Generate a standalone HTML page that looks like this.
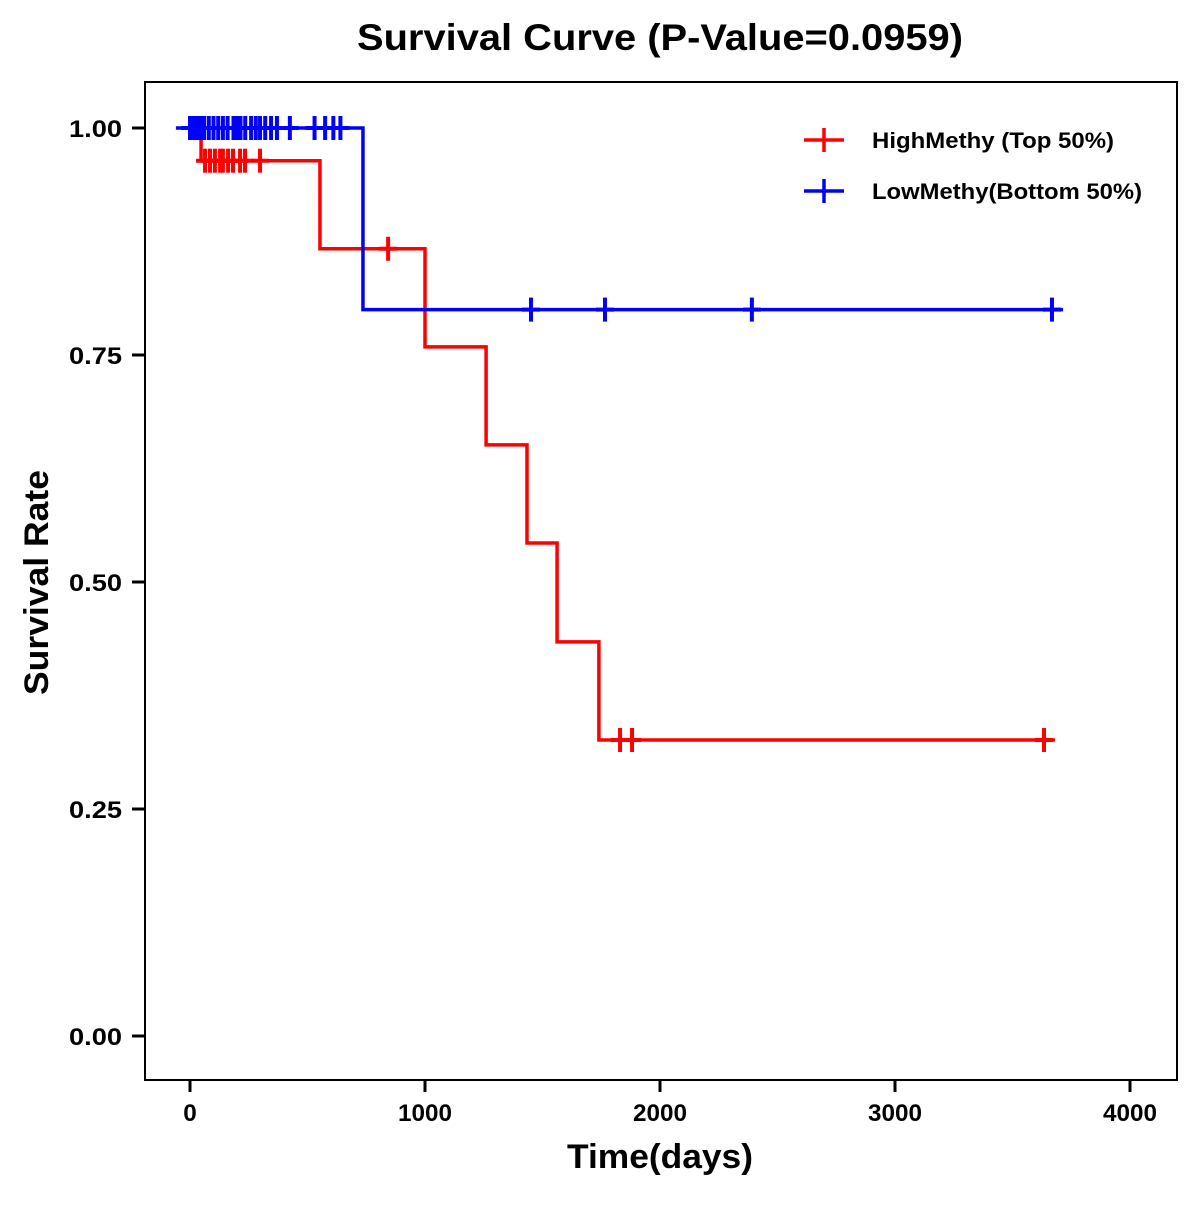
<!DOCTYPE html>
<html><head><meta charset="utf-8"><style>
body{margin:0;background:#fff}
svg text{font-family:"Liberation Sans",Arial,sans-serif;font-weight:bold}
</style></head><body>
<svg id="chart" width="1200" height="1200">
<rect x="145" y="82" width="1032" height="998" fill="none" stroke="#000" stroke-width="2"/>
<text x="357" y="50" font-size="37" textLength="606" lengthAdjust="spacingAndGlyphs">Survival Curve (P-Value=0.0959)</text>
<text x="567" y="1168" font-size="34" textLength="186" lengthAdjust="spacingAndGlyphs">Time(days)</text>
<text transform="translate(48,695) rotate(-90)" font-size="34" textLength="225" lengthAdjust="spacingAndGlyphs">Survival Rate</text>
<g id="axes"></g>
<g id="series"></g>
<g>
 <line x1="804" y1="140" x2="844" y2="140" stroke="#f00" stroke-width="3.5"/><line x1="824" y1="128" x2="824" y2="152" stroke="#f00" stroke-width="3.5"/>
 <text x="872" y="148" font-size="22" textLength="242" lengthAdjust="spacingAndGlyphs">HighMethy (Top 50%)</text>
 <line x1="804" y1="191" x2="844" y2="191" stroke="#00f" stroke-width="3.5"/><line x1="824" y1="179" x2="824" y2="203" stroke="#00f" stroke-width="3.5"/>
 <text x="872" y="199" font-size="22" textLength="270" lengthAdjust="spacingAndGlyphs">LowMethy(Bottom 50%)</text>
</g>
</svg>
<script>
const xTicks=[0,1000,2000,3000,4000];
const yTicks=[0,0.25,0.5,0.75,1];
const yTickLabels=["0.00","0.25","0.50","0.75","1.00"];
const highTimes=[0,47,553,1000,1260,1434,1562,1740,3681];
const highSurv=[1,0.964,0.867,0.759,0.651,0.543,0.434,0.326,0.326];
const highCensor=[64,85,106,128,140,162,183,213,234,298,843,1830,1881,3634];
const lowTimes=[-60,736,3715];
const lowSurv=[1,0.8,0.8];
const lowCensor=[0,10,20,30,45,60,80,100,120,140,160,185,200,215,235,260,280,298,320,345,370,425,530,575,610,640,1451,1766,2391,3668];
const X=t=>190+t*0.235, Y=s=>1036-s*908;
const NS="http://www.w3.org/2000/svg";
function mk(tag,attrs,parent){const e=document.createElementNS(NS,tag);for(const k in attrs)e.setAttribute(k,attrs[k]);parent.appendChild(e);return e;}
const ax=document.getElementById('axes');
xTicks.forEach(t=>{
 const l=mk('line',{x1:X(t),x2:X(t),y1:1080,y2:1092,stroke:'#000','stroke-width':3},ax);
 
 
 const s=String(t);
 const tx=mk('text',{x:X(t),y:1121,'text-anchor':'middle','font-size':24,textLength:s.length*13.5,lengthAdjust:'spacingAndGlyphs'},ax);tx.textContent=s;
 
 
});
yTicks.forEach((v,i)=>{
 const l=mk('line',{x1:132,x2:145,y1:Y(v),y2:Y(v),stroke:'#000','stroke-width':3},ax);
 
 
 const tx=mk('text',{x:122,y:Y(v)+9,'text-anchor':'end','font-size':24,textLength:53,lengthAdjust:'spacingAndGlyphs'},ax);tx.textContent=yTickLabels[i];
 
 
});
const sg=document.getElementById('series');
function stepAt(times,surv,t){let s=surv[0];for(let i=0;i<times.length;i++){if(times[i]<=t)s=surv[i];}return s;}
function draw(times,surv,cens,col,name){
 let d='M'+X(times[0])+','+Y(surv[0]);
 for(let i=1;i<times.length;i++){d+=' H'+X(times[i])+' V'+Y(surv[i]);}
 const p=mk('path',{d:d,fill:'none',stroke:col,'stroke-width':3.5},sg);
 
 
 cens.forEach(t=>{
  const s=stepAt(times,surv,t);
  const c=mk('line',{x1:X(t),x2:X(t),y1:Y(s)-12,y2:Y(s)+12,stroke:col,'stroke-width':4},sg);
  
  
  const h=mk('line',{x1:X(t)-9,x2:X(t)+9,y1:Y(s),y2:Y(s),stroke:col,'stroke-width':4},sg);
  
  
 });
}
draw(highTimes,highSurv,highCensor,'#f00','high-methy');
draw(lowTimes,lowSurv,lowCensor,'#00f','low-methy');
</script>
</body></html>
